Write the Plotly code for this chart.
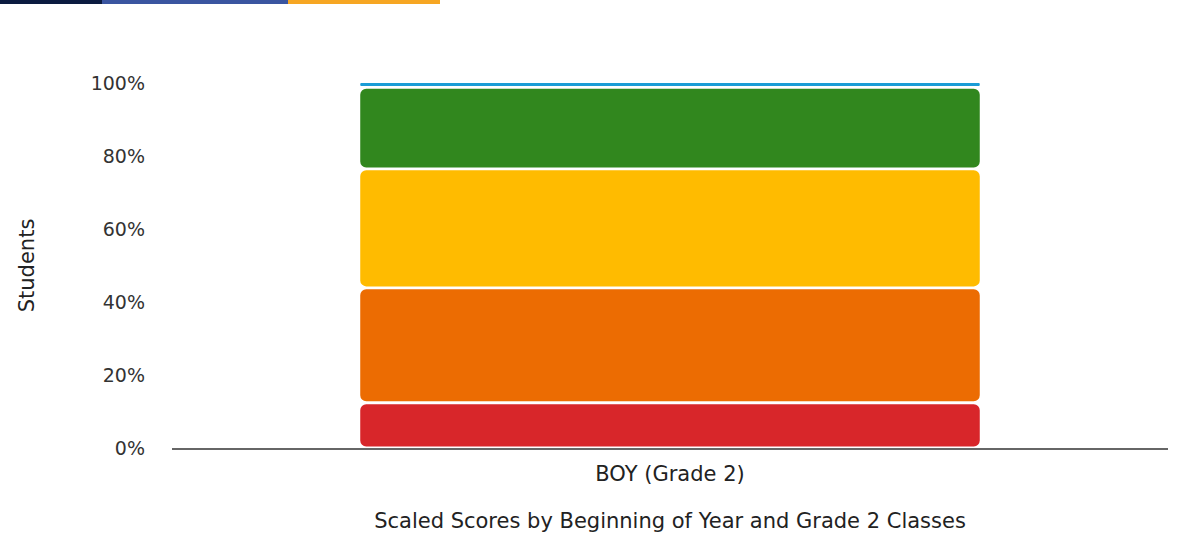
import plotly.graph_objects as go

categories = ["BOY (Grade 2)"]
levels = ["Level 1", "Level 2", "Level 3", "Level 4", "Level 5"]
percents = [12.4, 31.5, 32.6, 22.3, 1.2]
colors = ["#D8262A", "#EC6C02", "#FFBB00", "#31871E", "#1A9CD6"]
y_ticks = [0, 20, 40, 60, 80, 100]
y_tick_labels = ["0%", "20%", "40%", "60%", "80%", "100%"]

FONT = "DejaVu Sans"
gap = 0.38  # half of the white gap between segments, in % units

fig = go.Figure()
cum = 0.0
n = len(percents)
for i, (name, val, col) in enumerate(zip(levels, percents, colors)):
    lo, hi = cum, cum + val
    b0 = lo + gap
    b1 = hi if i == n - 1 else hi - gap
    fig.add_trace(go.Bar(
        x=categories, y=[b1 - b0], base=[b0], name=name,
        width=0.622,
        marker=dict(color=col, cornerradius=6, line=dict(width=0)),
        cliponaxis=False,
        showlegend=False, hovertemplate=f"{name}: {val}%<extra></extra>"))
    cum = hi

L, R, T, B = 172, 18, 83, 91
W, H = 1186, 539
pw, ph = W - L - R, H - T - B

def px_x(p):
    return (p - L) / pw

def px_y(p):
    return (H - B - p) / ph

strip = [(0, 102, "#0B1B40"), (102, 288, "#3A55A0"), (288, 440, "#F6A623")]
shapes = []
for x0, x1, c in strip:
    shapes.append(dict(type="rect", xref="paper", yref="paper",
                       x0=px_x(x0), x1=px_x(x1), y0=px_y(4), y1=px_y(0),
                       fillcolor=c, line=dict(width=0), layer="above"))

fig.update_layout(
    barmode="overlay",
    width=W, height=H,
    margin=dict(l=L, r=R, t=T, b=B, pad=0, autoexpand=False),
    paper_bgcolor="white", plot_bgcolor="white",
    font=dict(family=FONT, color="#333333", size=18),
    shapes=shapes,
    xaxis=dict(
        showline=True, linecolor="#666666", linewidth=2,
        showgrid=False, ticks="", tickfont=dict(size=21, color="#222222"),
        ticklabelstandoff=6, automargin=False,
        title=dict(text="Scaled Scores by Beginning of Year and Grade 2 Classes",
                   font=dict(size=21, color="#222222"), standoff=28),
        range=[-0.5, 0.5], fixedrange=True,
    ),
    yaxis=dict(
        range=[0, 100], tickmode="array", tickvals=y_ticks, ticktext=y_tick_labels,
        showgrid=False, zeroline=False, showline=False, ticks="",
        ticklabelstandoff=26, automargin=False,
        tickfont=dict(size=19, color="#333333"),
        title=dict(text="Students", font=dict(size=21, color="#222222"), standoff=50),
        fixedrange=True,
    ),
)

fig.write_html("out.html", config={"displayModeBar": False},
               post_script="document.body.style.margin='0';")
